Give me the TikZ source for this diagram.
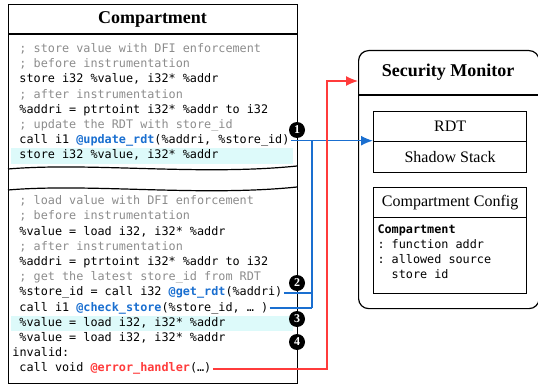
\documentclass[tikz,border=0pt]{standalone}
\usepackage{fontspec}
\setmainfont{Liberation Serif}
\setmonofont{DejaVu Sans Mono}
\usetikzlibrary{arrows.meta}
\definecolor{cmt}{HTML}{8C8C8C}
\definecolor{fnblue}{HTML}{1A6FD0}
\definecolor{fnred}{HTML}{FF3B3B}
\definecolor{hl}{HTML}{DDFAFA}
\newcommand\fblue[1]{\textcolor{fnblue}{\bfseries #1}}
\newcommand\fred[1]{\textcolor{fnred}{\bfseries #1}}
\begin{document}
\begin{tikzpicture}[x=1pt,y=-1pt,
  code/.style={anchor=west, inner sep=0pt, outer sep=1.5pt,
    font=\fontsize{11.8}{14}\selectfont\ttfamily, text height=8.9pt, text depth=3pt},
  cmtline/.style={code, text=cmt},
  frame/.style={draw, line width=1.2pt, inner sep=0pt, anchor=north west},
  title/.style={font=\fontsize{18}{20}\selectfont\bfseries},
  cell/.style={frame, font=\fontsize{16}{18}\selectfont},
  stepmark/.style={circle, fill=black, text=white, inner sep=0pt, minimum size=16pt,
    font=\fontsize{12}{13}\selectfont\bfseries},
  tip/.style={-{Latex[length=12pt,width=10pt]}},
  blueline/.style={draw=fnblue, line width=1.5pt},
  redline/.style={draw=fnred, line width=1.2pt}]
\useasboundingbox (0,0) rectangle (538,385);

% highlighted instructions
\fill[hl] (11,148.3) rectangle (293,164);
\fill[hl] (11,315.7) rectangle (293,330.7);

% ---- compartment frame ----
\node[frame, minimum width=289pt, minimum height=379pt] (comp) at (8,4) {};
\node[title] (ctitle) at (152.5,19) {Compartment};
\draw[line width=1.2pt] (comp.west |- 0,34) -- (comp.east |- 0,34);

% store sequence
\node[cmtline] (s1) at (18,49.5) {; store value with DFI enforcement};
\node[cmtline] (s2) at (18,64.7) {; before instrumentation};
\node[code] (s3) at (18,79.9) {store i32 \%value, i32* \%addr};
\node[cmtline] (s4) at (18,95.1) {; after instrumentation};
\node[code] (s5) at (18,110.3) {\%addri = ptrtoint i32* \%addr to i32};
\node[cmtline] (s6) at (18,125.5) {; update the RDT with store\_id};
\node[code] (s7) at (18,140.7) {call i1 \fblue{@update\_rdt}(\%addri, \%store\_id)};
\node[code] (s8) at (18,155.9) {store i32 \%value, i32* \%addr};

% elided code between the two sequences
\draw[line width=1.2pt] (8,169) .. controls (90,162) and (200,176) .. (297,166);
\draw[line width=1.2pt] (8,190) .. controls (90,183) and (200,197) .. (297,187);

% load sequence
\node[cmtline] (m1) at (18,201.7) {; load value with DFI enforcement};
\node[cmtline] (m2) at (18,216.9) {; before instrumentation};
\node[code] (m3) at (18,232.1) {\%value = load i32, i32* \%addr};
\node[cmtline] (m4) at (18,247.3) {; after instrumentation};
\node[code] (m5) at (18,262.5) {\%addri = ptrtoint i32* \%addr to i32};
\node[cmtline] (m6) at (18,277.7) {; get the latest store\_id from RDT};
\node[code] (m7) at (18,292.9) {\%store\_id = call i32 \fblue{@get\_rdt}(\%addri)};
\node[code] (m8) at (18,308.1) {call i1 \fblue{@check\_store}(\%store\_id, … )};
\node[code] (m9) at (18,323.3) {\%value = load i32, i32* \%addr};
\node[code] (m10) at (18,338.5) {\%value = load i32, i32* \%addr};
\node[code] (m11) at (11,353.7) {invalid:};
\node[code] (m12) at (18,368.9) {call void \fred{@error\_handler}(…)};

% ---- security monitor ----
\node[frame, rounded corners=10pt, minimum width=180.5pt, minimum height=258pt] (sm) at (358,50) {};
\node[title] (smtitle) at (448,72) {Security Monitor};
\draw[line width=1.2pt] (sm.west |- 0,95) -- (sm.east |- 0,95);

\node[cell, minimum width=153pt, minimum height=30pt] (rdt) at (373,111) {RDT};
\node[cell, minimum width=153pt, minimum height=31pt] (shadow) at (373,141) {Shadow Stack};

\node[cell, minimum width=153pt, minimum height=30pt] (cfgt) at (373,187) {Compartment Config};
\node[frame, minimum width=153pt, minimum height=76pt] (cfgb) at (373,217) {};
\node[code, font=\fontsize{11.8}{14}\selectfont\ttfamily\bfseries] (c1) at (376,231) {Compartment};
\node[code] (c2) at (376,246) {: function addr};
\node[code] (c3) at (376,261) {: allowed source};
\node[code] (c4) at (376,276) {\phantom{: }store id};

% ---- connectors ----
\coordinate (bj) at (312,141);
\coordinate (rj) at (327,81);
\draw[blueline, tip] (s7.east) -- (s7.east -| rdt.south west);
\draw[blueline] (bj) -- (bj |- m8.east);
\draw[blueline] (m7.east) -- (m7.east -| bj);
\draw[blueline] (m8.east) -- (m8.east -| bj);
\draw[redline, tip] (m12.east) -| (rj) -- (rj -| sm.west);

% step markers on the compartment edge
\node[stepmark] (k1) at (297,130) {1};
\node[stepmark] (k2) at (297,283) {2};
\node[stepmark] (k3) at (297,319) {3};
\node[stepmark] (k4) at (297,342) {4};
\end{tikzpicture}
\end{document}
